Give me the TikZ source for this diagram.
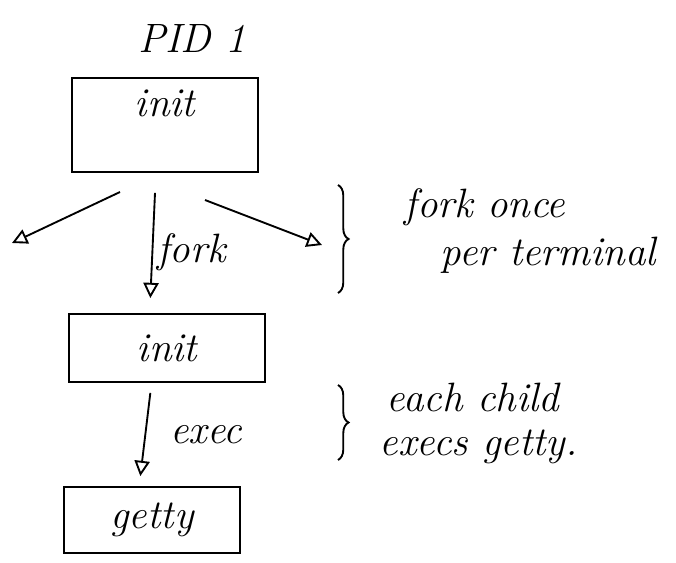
\documentclass[tikz,border=0pt]{standalone}
\usetikzlibrary{arrows.meta,decorations.pathreplacing}
\begin{document}
\begin{tikzpicture}[x=0.03cm, y=-0.03cm, line width=1.6pt,
  hand/.style={font=\fontsize{35}{40}\selectfont\itshape},
  proc/.style={draw, line width=1.6pt, hand, inner sep=0pt},
  spawn/.style={line width=1.6pt, -{Triangle[open, length=13pt, width=13pt]}},
  curly/.style={line width=1.6pt, decorate, decoration={brace, amplitude=9pt}}]
\useasboundingbox (0,0) rectangle (676,562);
\node[hand] (pid) at (192,38) {PID 1};
\node[proc, minimum width=5.58cm, minimum height=2.82cm, text depth=1.3cm] (init1) at (165,125) {init};
\node[proc, minimum width=5.88cm, minimum height=2.04cm] (init2) at (167,348) {init};
\node[proc, minimum width=5.28cm, minimum height=1.98cm] (getty) at (152,520) {getty};
\coordinate (left) at (12,243);
\coordinate (right) at (322,245);
\draw[spawn] (120,192) -- (left);
\draw[spawn] (205,200) -- (right);
\draw[spawn] ([xshift=-0.3cm, yshift=-0.6cm]init1.south) -- node[hand, right, yshift=-0.2cm] (forklbl) {fork} ([xshift=-0.5cm, yshift=0.45cm]init2.north);
\draw[spawn] ([xshift=-0.5cm, yshift=-0.3cm]init2.south) -- node[hand, right, xshift=0.6cm] (execlbl) {exec} ([xshift=-0.35cm, yshift=0.3cm]getty.north);
\draw[curly] (338,185) -- (338,293);
\draw[curly] (338,385) -- (338,460);
\node[hand, anchor=west] (note1a) at (400,207) {fork once};
\node[hand, anchor=west] (note1b) at (436,255) {per terminal};
\node[hand, anchor=west] (note2a) at (382,397) {each child};
\node[hand, anchor=west] (note2b) at (375,447) {execs getty.};
\end{tikzpicture}
\end{document}
